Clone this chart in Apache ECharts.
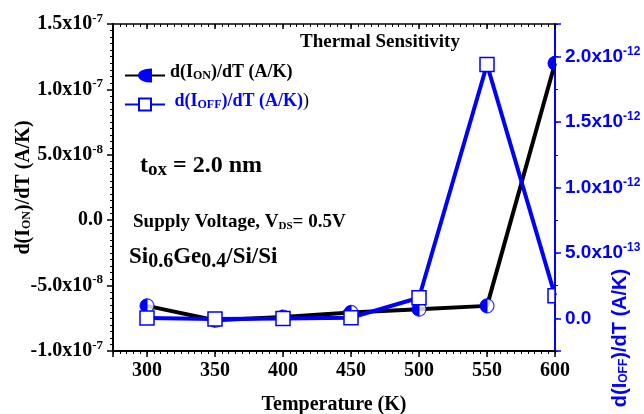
<!DOCTYPE html>
<html>
<head>
<meta charset="utf-8">
<script src="https://cdn.jsdelivr.net/npm/echarts@6/dist/echarts.min.js"></script>
<style>
  html, body { margin: 0; padding: 0; background: #fff; }
  #chart { width: 644px; height: 414px; }
</style>
</head>
<body>
<div id="chart"></div>
<script>
// temperature (K) and the two slopes
var temps = [300, 350, 400, 450, 500, 550, 600];
var dIonDt = [-6.55e-8, -7.65e-8, -7.4e-8, -7.05e-8, -6.8e-8, -6.55e-8, 1.2e-7];   // A/K, left axis
var dIoffDt = [2e-15, -5e-15, -2e-15, 5e-15, 1.57e-13, 1.94e-12, 1.73e-13];       // A/K, right axis

var xRange = [275, 600];
var leftRange = [-1e-7, 1.5e-7];
var leftStep = 5e-8;
var rightRange = [-2.5e-13, 2.25e-12];
var rightStep = 5e-13;

var ION = 'd(I_ON)/dT (A/K)';
var IOFF = 'd(I_OFF)/dT (A/K)';
var BLUE = '#0000ff';
var SERIF = 'Liberation Serif';
var SANS = 'Liberation Sans';

// half-disc symbols, so a circle can be half filled
var leftHalf = 'path://M50,0A50,50 0 0 0 50,100Z';
var rightHalf = 'path://M0,0A50,50 0 0 1 0,100Z';
var leftHalfRect = 'path://M0,0H50V100H0Z';

function sci(v, step) {
  if (Math.abs(v) < step * 1e-3) return '{n|0.0}';
  var e = Math.floor(Math.log10(Math.abs(v)) + 1e-9);
  var m = v / Math.pow(10, e);
  return '{n|' + m.toFixed(1) + 'x10}{p|' + e + '}';
}
function onStep(v, step) {
  var r = v / step;
  return Math.abs(r - Math.round(r)) < 1e-6;
}

var ionData = temps.map(function (t, i) { return [t, dIonDt[i]]; });
var ionRight = temps.slice(0, -1).map(function (t, i) { return [t, dIonDt[i]]; });
var ioffData = temps.map(function (t, i) {
  if (i === temps.length - 1) {
    // the last square sits on the frame and is cut in half
    return { value: [t, dIoffDt[i]], symbol: leftHalfRect, symbolKeepAspect: true, symbolOffset: [-3.5, 0] };
  }
  return [t, dIoffDt[i]];
});

var myChart = echarts.init(document.getElementById('chart'));

// ticks only, for the extra minor-tick axes
function ticksOnly(extra) {
  return Object.assign({
    type: 'value',
    axisLine: { show: false, onZero: false },
    axisLabel: { show: false },
    splitLine: { show: false }
  }, extra);
}

var option = {
  animation: false,
  backgroundColor: '#fff',
  grid: { left: 113, right: 89, top: 24, bottom: 63, containLabel: false, outerBoundsMode: 'none' },
  legend: {
    left: 119, top: 58, orient: 'vertical',
    itemWidth: 40, itemHeight: 15, itemGap: 4,
    data: [
      { name: ION, textStyle: { color: '#000' } },
      { name: IOFF, textStyle: { color: BLUE } }
    ],
    formatter: function (name) {
      if (name === ION) return '{n|d(I}{s|ON}{n|)/dT (A/K)}';
      return '{n| d(I}{s|OFF}{n|)/dT (A/K)}{k|)}';
    },
    textStyle: {
      fontFamily: SERIF, fontWeight: 'bold', fontSize: 18,
      rich: {
        n: { fontFamily: SERIF, fontWeight: 'bold', fontSize: 18, lineHeight: 18, padding: [0, 0, 7, 0] },
        s: { fontFamily: SERIF, fontWeight: 'bold', fontSize: 12, lineHeight: 12 },
        k: { fontFamily: SERIF, fontWeight: 'normal', fontSize: 18, lineHeight: 18, padding: [0, 0, 7, 0], color: '#000' }
      }
    }
  },
  xAxis: [
    {
      type: 'value', position: 'bottom', min: xRange[0], max: xRange[1],
      name: 'Temperature (K)', nameLocation: 'middle', nameGap: 44, nameMoveOverlap: false,
      nameTextStyle: { fontFamily: SERIF, fontWeight: 'bold', fontSize: 20, color: '#000' },
      axisLine: { onZero: false, lineStyle: { color: '#000', width: 2 } },
      axisTick: { length: 6, lineStyle: { color: '#000', width: 1.5 } },
      axisLabel: {
        margin: 10, fontFamily: SERIF, fontWeight: 'bold', fontSize: 20, color: '#000',
        formatter: function (v) { return onStep(v, 50) ? String(v) : ''; }
      },
      splitLine: { show: false }
    },
    ticksOnly({
      position: 'bottom', min: xRange[0], max: xRange[1], interval: 5,
      axisTick: { length: 3, lineStyle: { color: '#000', width: 1 } }
    }),
    {
      type: 'value', position: 'top', min: xRange[0], max: xRange[1],
      axisLine: { onZero: false, lineStyle: { color: '#000', width: 1.5 } },
      axisTick: { inside: true, length: 5, lineStyle: { color: '#000', width: 1.5 } },
      axisLabel: { show: false }, splitLine: { show: false }
    },
    ticksOnly({
      position: 'top', min: xRange[0], max: xRange[1], interval: 5,
      axisTick: { inside: true, length: 3, lineStyle: { color: '#000', width: 1 } }
    })
  ],
  yAxis: [
    {
      type: 'value', position: 'left', min: leftRange[0], max: leftRange[1], interval: leftStep,
      name: '{n|d(I}{s|ON}{n|)/dT (A/K)}', nameLocation: 'middle', nameGap: 76, nameMoveOverlap: false,
      nameTextStyle: {
        color: '#000',
        rich: {
          n: { fontFamily: SERIF, fontWeight: 'bold', fontSize: 20, lineHeight: 20, padding: [0, 0, 7, 0] },
          s: { fontFamily: SERIF, fontWeight: 'bold', fontSize: 12, lineHeight: 12 }
        }
      },
      axisLine: { onZero: false, lineStyle: { color: '#000', width: 2 } },
      axisTick: { length: 6, lineStyle: { color: '#000', width: 1.5 } },
      minorTick: { show: true, splitNumber: 10, length: 3, lineStyle: { color: '#000', width: 1 } },
      axisLabel: {
        margin: 10, color: '#000',
        formatter: function (v) { return sci(v, leftStep); },
        rich: {
          n: { fontFamily: SERIF, fontWeight: 'bold', fontSize: 20, lineHeight: 20 },
          p: { fontFamily: SERIF, fontWeight: 'bold', fontSize: 13, lineHeight: 13, padding: [0, 0, 11, 0] }
        }
      },
      splitLine: { show: false }
    },
    {
      type: 'value', position: 'right', min: rightRange[0], max: rightRange[1],
      axisLine: { onZero: false, lineStyle: { color: BLUE, width: 2 } },
      axisTick: { length: 6, lineStyle: { color: BLUE, width: 1.5 } },
      axisLabel: {
        margin: 10, color: BLUE,
        formatter: function (v) { return onStep(v, rightStep) ? sci(v, rightStep) : ''; },
        rich: {
          n: { fontFamily: SANS, fontWeight: 'bold', fontSize: 19, lineHeight: 19, color: BLUE },
          p: { fontFamily: SANS, fontWeight: 'bold', fontSize: 12, lineHeight: 12, padding: [0, 0, 10, 0], color: BLUE }
        }
      },
      splitLine: { show: false }
    },
    ticksOnly({
      position: 'right', min: rightRange[0], max: rightRange[1], interval: rightStep / 2,
      axisTick: { length: 3, lineStyle: { color: BLUE, width: 1 } }
    })
  ],
  series: [
    {
      name: ION, type: 'line', xAxisIndex: 0, yAxisIndex: 0, data: ionData, z: 2,
      lineStyle: { color: '#000', width: 4 },
      symbol: leftHalf, symbolSize: 14, symbolKeepAspect: true, symbolOffset: [-3.5, 0],
      itemStyle: { color: BLUE, borderColor: BLUE, borderWidth: 1 }
    },
    {
      name: 'ion-right-half', type: 'scatter', xAxisIndex: 0, yAxisIndex: 0, data: ionRight, z: 3,
      symbol: rightHalf, symbolSize: 14, symbolKeepAspect: true, symbolOffset: [3.5, 0],
      itemStyle: { color: '#fff', borderColor: BLUE, borderWidth: 1.2 }, silent: true
    },
    {
      name: IOFF, type: 'line', xAxisIndex: 0, yAxisIndex: 1, data: ioffData, z: 4,
      lineStyle: { color: BLUE, width: 4 },
      symbol: 'rect', symbolSize: 14,
      itemStyle: { color: '#fff', borderColor: BLUE, borderWidth: 1.5 }
    }
  ],
  graphic: [
    {
      type: 'text', x: 300, y: 42,
      style: { text: 'Thermal Sensitivity', fill: '#000', font: 'bold 19px "Liberation Serif"', verticalAlign: 'middle' }
    },
    {
      type: 'text', x: 140, y: 170,
      style: {
        text: '{n|t}{s|ox}{n| = 2.0 nm}', verticalAlign: 'middle', fill: '#000',
        rich: {
          n: { fontFamily: SERIF, fontWeight: 'bold', fontSize: 24, lineHeight: 24, padding: [0, 0, 8, 0], fill: '#000' },
          s: { fontFamily: SERIF, fontWeight: 'bold', fontSize: 19, lineHeight: 19, fill: '#000' }
        }
      }
    },
    {
      type: 'text', x: 133, y: 226,
      style: {
        text: '{n|Supply Voltage, V}{s|DS}{n|= 0.5V}', verticalAlign: 'middle', fill: '#000',
        rich: {
          n: { fontFamily: SERIF, fontWeight: 'bold', fontSize: 19, lineHeight: 19, padding: [0, 0, 8, 0], fill: '#000' },
          s: { fontFamily: SERIF, fontWeight: 'bold', fontSize: 11, lineHeight: 11, fill: '#000' }
        }
      }
    },
    {
      type: 'text', x: 129, y: 262,
      style: {
        text: '{n|Si}{s|0.6}{n|Ge}{s|0.4}{n|/Si/Si}', verticalAlign: 'middle', fill: '#000',
        rich: {
          n: { fontFamily: SERIF, fontWeight: 'bold', fontSize: 23, lineHeight: 23, padding: [0, 0, 10, 0], fill: '#000' },
          s: { fontFamily: SERIF, fontWeight: 'bold', fontSize: 20, lineHeight: 20, fill: '#000' }
        }
      }
    },
    {
      type: 'text', x: 624, y: 338, rotation: Math.PI / 2,
      style: {
        text: '{n|d(I}{s|OFF}{n|)/dT (A/K)}', align: 'center', verticalAlign: 'middle', fill: BLUE,
        rich: {
          n: { fontFamily: SANS, fontWeight: 'bold', fontSize: 20, lineHeight: 20, padding: [0, 0, 7, 0], fill: BLUE },
          s: { fontFamily: SANS, fontWeight: 'bold', fontSize: 12, lineHeight: 12, fill: BLUE }
        }
      }
    }
  ]
};

myChart.setOption(option);
</script>
</body>
</html>
